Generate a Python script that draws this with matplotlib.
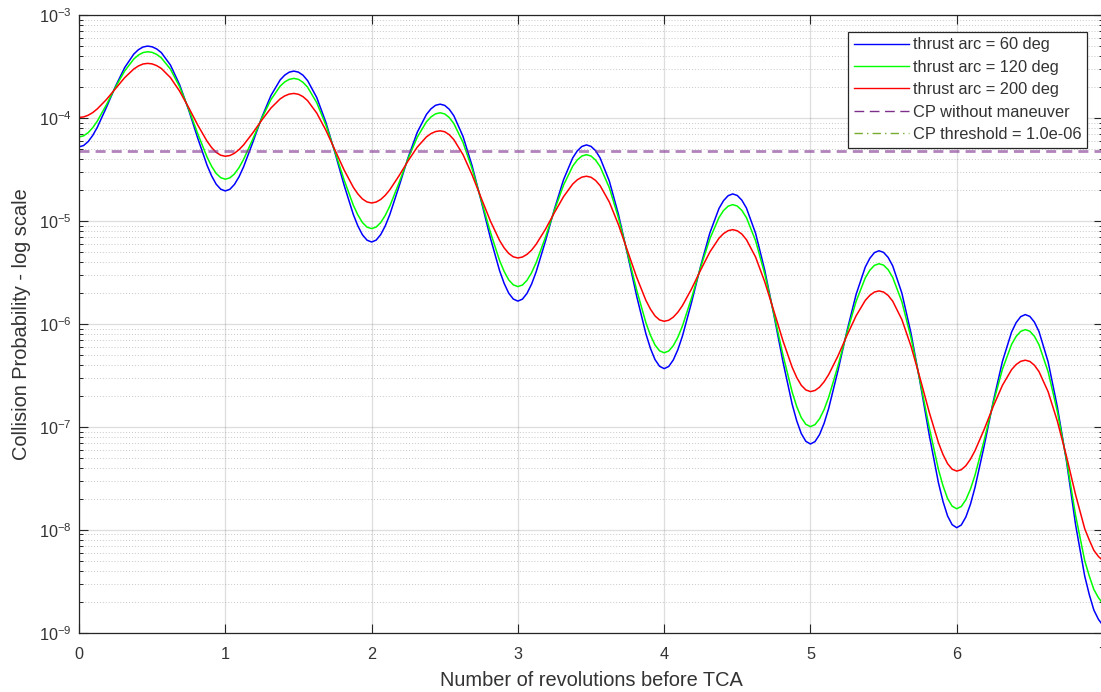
import numpy as np
import matplotlib
matplotlib.use("Agg")
import matplotlib.pyplot as plt
from matplotlib.lines import Line2D
from matplotlib.ticker import LogLocator, NullFormatter

plt.rcParams["font.family"] = ["Liberation Sans", "DejaVu Sans"]

# sample positions inside each revolution (denser near the troughs and the peak)
cycle_offsets = [0, 1/32, 1/16, 3/32, 1/8, 3/16, 1/4, 5/16, 3/8, 13/32, 7/16, 15/32,
                 1/2, 17/32, 9/16, 5/8, 11/16, 3/4, 13/16, 7/8, 29/32, 15/16, 31/32]
revs = np.concatenate([k + np.array(cycle_offsets) for k in range(7)] + [[7.0]])

# log10 of collision probability
blue_log_cp = [
    -4.281, -4.268, -4.230, -4.170, -4.091, -3.897, -3.691, -3.510, -3.379, -3.337, -3.311, -3.302, -3.309, -3.330, -3.365, -3.486, -3.676, -3.924, -4.200, -4.458, -4.562, -4.643, -4.692,
    -4.709, -4.693, -4.646, -4.572, -4.475, -4.239, -3.993, -3.781, -3.631, -3.584, -3.555, -3.545, -3.555, -3.585, -3.637, -3.801, -4.042, -4.339, -4.654, -4.937, -5.049, -5.135, -5.187,
    -5.205, -5.187, -5.133, -5.048, -4.937, -4.666, -4.384, -4.139, -3.966, -3.911, -3.877, -3.866, -3.878, -3.916, -3.979, -4.179, -4.466, -4.810, -5.167, -5.483, -5.607, -5.702, -5.759,
    -5.779, -5.760, -5.704, -5.614, -5.495, -5.202, -4.885, -4.599, -4.388, -4.320, -4.277, -4.262, -4.276, -4.318, -4.389, -4.612, -4.936, -5.327, -5.733, -6.095, -6.238, -6.347, -6.412,
    -6.435, -6.414, -6.351, -6.251, -6.119, -5.791, -5.436, -5.117, -4.879, -4.803, -4.755, -4.738, -4.753, -4.799, -4.875, -5.120, -5.477, -5.912, -6.370, -6.780, -6.942, -7.066, -7.141,
    -7.167, -7.144, -7.075, -6.965, -6.820, -6.459, -6.068, -5.713, -5.448, -5.363, -5.308, -5.290, -5.306, -5.355, -5.437, -5.701, -6.091, -6.572, -7.082, -7.543, -7.725, -7.866, -7.951,
    -7.980, -7.954, -7.876, -7.753, -7.589, -7.187, -6.753, -6.365, -6.080, -5.988, -5.930, -5.910, -5.928, -5.983, -6.075, -6.370, -6.803, -7.330, -7.950, -8.450, -8.630, -8.780, -8.870,
    -8.930,
]
green_log_cp = [
    -4.184, -4.174, -4.143, -4.095, -4.031, -3.872, -3.699, -3.543, -3.427, -3.389, -3.365, -3.357, -3.363, -3.383, -3.416, -3.526, -3.696, -3.915, -4.156, -4.379, -4.469, -4.539, -4.580,
    -4.595, -4.582, -4.544, -4.483, -4.403, -4.207, -4.001, -3.821, -3.691, -3.650, -3.625, -3.616, -3.625, -3.654, -3.701, -3.851, -4.068, -4.330, -4.603, -4.847, -4.942, -5.016, -5.060,
    -5.075, -5.060, -5.016, -4.946, -4.855, -4.631, -4.394, -4.187, -4.037, -3.990, -3.960, -3.950, -3.961, -3.996, -4.055, -4.237, -4.495, -4.800, -5.111, -5.385, -5.491, -5.573, -5.621,
    -5.638, -5.623, -5.577, -5.504, -5.406, -5.163, -4.897, -4.652, -4.468, -4.408, -4.370, -4.357, -4.370, -4.409, -4.473, -4.677, -4.969, -5.316, -5.673, -5.988, -6.111, -6.205, -6.262,
    -6.281, -6.264, -6.212, -6.130, -6.021, -5.748, -5.448, -5.174, -4.967, -4.899, -4.857, -4.842, -4.856, -4.898, -4.968, -5.192, -5.514, -5.902, -6.304, -6.662, -6.803, -6.911, -6.976,
    -6.998, -6.979, -6.922, -6.832, -6.712, -6.412, -6.083, -5.781, -5.553, -5.479, -5.432, -5.416, -5.430, -5.474, -5.549, -5.785, -6.134, -6.560, -7.009, -7.414, -7.573, -7.697, -7.771,
    -7.796, -7.774, -7.709, -7.606, -7.470, -7.132, -6.768, -6.441, -6.200, -6.122, -6.073, -6.056, -6.072, -6.121, -6.203, -6.466, -6.849, -7.316, -7.860, -8.300, -8.450, -8.580, -8.660,
    -8.720,
]
red_log_cp = [
    -3.995, -3.990, -3.974, -3.948, -3.912, -3.821, -3.714, -3.608, -3.524, -3.495, -3.476, -3.470, -3.475, -3.492, -3.519, -3.608, -3.739, -3.900, -4.071, -4.225, -4.287, -4.334, -4.362,
    -4.372, -4.365, -4.343, -4.308, -4.262, -4.146, -4.020, -3.903, -3.815, -3.786, -3.768, -3.762, -3.770, -3.793, -3.832, -3.952, -4.119, -4.312, -4.506, -4.673, -4.738, -4.787, -4.816,
    -4.826, -4.817, -4.792, -4.751, -4.697, -4.562, -4.416, -4.283, -4.184, -4.152, -4.132, -4.125, -4.134, -4.163, -4.211, -4.356, -4.554, -4.780, -5.002, -5.190, -5.262, -5.316, -5.349,
    -5.360, -5.351, -5.325, -5.284, -5.227, -5.084, -4.920, -4.764, -4.642, -4.601, -4.575, -4.566, -4.576, -4.607, -4.658, -4.816, -5.036, -5.292, -5.549, -5.771, -5.857, -5.923, -5.962,
    -5.975, -5.965, -5.935, -5.887, -5.823, -5.660, -5.476, -5.302, -5.168, -5.123, -5.095, -5.085, -5.096, -5.128, -5.182, -5.351, -5.591, -5.875, -6.166, -6.421, -6.521, -6.597, -6.642,
    -6.658, -6.647, -6.615, -6.562, -6.492, -6.314, -6.112, -5.921, -5.772, -5.723, -5.691, -5.680, -5.691, -5.724, -5.780, -5.958, -6.217, -6.531, -6.860, -7.154, -7.269, -7.358, -7.412,
    -7.430, -7.417, -7.378, -7.315, -7.232, -7.026, -6.801, -6.597, -6.445, -6.395, -6.364, -6.353, -6.365, -6.402, -6.464, -6.660, -6.943, -7.285, -7.660, -7.990, -8.100, -8.200, -8.260,
    -8.300,
]

cp_no_maneuver = 4.8e-5
cp_threshold = 1.0e-6
labels = ["thrust arc = 60 deg", "thrust arc = 120 deg", "thrust arc = 200 deg",
          "CP without maneuver", f"CP threshold = {cp_threshold:.1e}"]

TXT = "#333333"
AX = "#262626"

fig = plt.figure(figsize=(11.01, 6.92), dpi=100)
ax = fig.add_axes([79 / 1101, 59.3 / 692, 1024 / 1101, 617.7 / 692])

ax.plot(revs, 10 ** np.array(blue_log_cp), color="#0000ff", lw=1.1)
ax.plot(revs, 10 ** np.array(green_log_cp), color="#00ff00", lw=1.1)
ax.plot(revs, 10 ** np.array(red_log_cp), color="#ff0000", lw=1.1)
ax.axhline(cp_no_maneuver, color="#7e2f8e", alpha=0.6, lw=2.0, dashes=(3.6, 2.2))

ax.set_yscale("log")
ax.set_xlim(0, 7)
ax.set_ylim(1e-9, 1e-3)
ax.yaxis.set_major_locator(LogLocator(base=10, numticks=20))
ax.yaxis.set_minor_locator(LogLocator(base=10, subs=np.arange(2, 10), numticks=20))
ax.yaxis.set_minor_formatter(NullFormatter())

ax.grid(True, which="major", axis="both", color=AX, alpha=0.15, lw=0.9)
ax.grid(True, which="minor", axis="y", color=AX, alpha=0.25, lw=0.7, ls=(0, (1, 2)))
ax.set_axisbelow(True)

for s in ax.spines.values():
    s.set_color(AX)
    s.set_linewidth(0.9)
ax.tick_params(which="both", direction="in", top=True, right=True, colors=AX,
               labelcolor=TXT, labelsize=11.7)
ax.tick_params(which="major", length=6.5, width=0.8)
ax.tick_params(which="minor", length=3.2, width=0.7)
ax.tick_params(axis="x", pad=10)
ax.tick_params(axis="y", pad=5)

ax.set_xlabel("Number of revolutions before TCA", fontsize=14.4, color=TXT, labelpad=7)
ax.set_ylabel("Collision Probability - log scale", fontsize=14.4, color=TXT, labelpad=6)

handles = [
    Line2D([], [], color="#0000ff", lw=1.0),
    Line2D([], [], color="#00ff00", lw=1.0),
    Line2D([], [], color="#ff0000", lw=1.0),
    Line2D([], [], color="#7e2f8e", lw=1.0, dashes=(7, 4)),
    Line2D([], [], color="#77ac30", lw=1.0, dashes=(6, 3, 1, 3)),
]
leg = ax.legend(handles, labels, loc="upper right", bbox_to_anchor=(0.9844, 0.973),
                borderaxespad=0, fontsize=11.8, handlelength=3.4, handletextpad=0.2,
                labelspacing=0.45, borderpad=0.35, fancybox=False, framealpha=1,
                edgecolor=AX)
leg.get_frame().set_linewidth(0.9)
for t in leg.get_texts():
    t.set_color(TXT)

fig.savefig("out.png", dpi=100, facecolor="white")
